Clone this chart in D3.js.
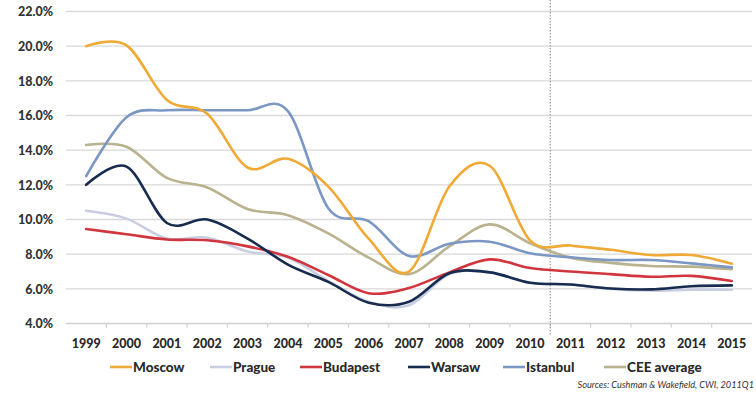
<!DOCTYPE html>
<html>
<head>
<meta charset="utf-8">
<script src="https://cdn.jsdelivr.net/npm/d3@7"></script>
<style>
  html, body { margin: 0; padding: 0; background: #fff; }
  svg { display: block; }
  text { font-family: Lato, "Open Sans", sans-serif; }
</style>
</head>
<body>
<svg id="chart" width="756" height="394"></svg>
<script>
// Office prime yields by city, 1999-2015 (forecast from 2011)
const years = ["1999","2000","2001","2002","2003","2004","2005","2006","2007","2008","2009","2010","2011","2012","2013","2014","2015"];

const moscow   = [20.0, 20.05, 16.9, 16.1, 13.0, 13.5, 11.9, 8.9, 7.0, 11.9, 13.1, 8.8, 8.5, 8.25, 7.95, 7.95, 7.45];
const prague   = [10.5, 10.05, 8.9, 8.95, 8.15, 7.8, 6.45, 5.25, 5.05, 6.85, 6.95, 6.35, 6.25, 6.0, 5.9, 5.95, 5.95];
const budapest = [9.45, 9.15, 8.85, 8.8, 8.45, 7.85, 6.8, 5.75, 6.05, 6.95, 7.7, 7.2, 7.0, 6.85, 6.7, 6.75, 6.45];
const warsaw   = [12.0, 13.05, 9.8, 10.0, 8.9, 7.4, 6.4, 5.2, 5.25, 6.9, 6.95, 6.35, 6.25, 6.02, 5.97, 6.15, 6.2];
const istanbul = [12.5, 15.9, 16.3, 16.3, 16.3, 16.25, 10.65, 9.9, 7.9, 8.6, 8.72, 8.05, 7.82, 7.66, 7.66, 7.47, 7.24];
const ceeAvg   = [14.3, 14.2, 12.4, 11.85, 10.6, 10.25, 9.2, 7.8, 6.85, 8.45, 9.72, 8.63, 7.8, 7.5, 7.32, 7.28, 7.13];

const seriesNames = ["Moscow", "Prague", "Budapest", "Warsaw", "Istanbul", "CEE average"];
const seriesValues = [moscow, prague, budapest, warsaw, istanbul, ceeAvg];
const seriesColors = ["#efa935", "#c9cde2", "#d1363e", "#172c4e", "#7b97c4", "#b9b28f"];

const yTicks = [4, 6, 8, 10, 12, 14, 16, 18, 20, 22];
const forecastStart = "2011";
const sourceNote = "Sources: Cushman & Wakefield, CWI, 2011Q1";

const svg = d3.select("#chart");
const margin = { left: 66, right: 4, top: 11.5, bottom: 70.5 };

const x = d3.scaleBand().domain(years).range([margin.left, 752]).paddingInner(0).paddingOuter(0);
const y = d3.scaleLinear().domain([4, 22]).range([323.5, margin.top]);

// horizontal gridlines
svg.append("g")
  .selectAll("line")
  .data(yTicks.filter(d => d > 4))
  .join("line")
  .attr("x1", margin.left).attr("x2", 752)
  .attr("y1", d => y(d)).attr("y2", d => y(d))
  .attr("stroke", "#d9d9d9").attr("stroke-width", 1.4);

// y-axis labels
const yAxis = d3.axisLeft(y).tickValues(yTicks).tickSize(0).tickPadding(0)
  .tickFormat(d => d.toFixed(1) + "%");
const gy = svg.append("g").attr("transform", "translate(53,0)").call(yAxis);
gy.select(".domain").remove();
gy.selectAll("text")
  .attr("font-size", "12.5px").attr("font-weight", 900).attr("fill", "#333")
  .attr("dy", "0.35em");

// x axis with ticks at category boundaries
const gx = svg.append("g").attr("transform", `translate(0,${y(4)})`);
gx.append("line")
  .attr("x1", margin.left).attr("x2", 752)
  .attr("stroke", "#cfcfcf").attr("stroke-width", 1.4);
gx.selectAll("line.tick")
  .data(years.slice(1))
  .join("line")
  .attr("class", "tick")
  .attr("x1", d => x(d)).attr("x2", d => x(d))
  .attr("y1", 0).attr("y2", 4)
  .attr("stroke", "#cfcfcf").attr("stroke-width", 1.2);
gx.selectAll("text")
  .data(years)
  .join("text")
  .attr("x", d => x(d) + x.bandwidth() / 2)
  .attr("y", 24)
  .attr("text-anchor", "middle")
  .attr("font-size", "12.5px").attr("font-weight", 900).attr("fill", "#2a2a2a")
  .text(d => d);

// dotted separator before forecast years
svg.append("line")
  .attr("x1", x(forecastStart)).attr("x2", x(forecastStart))
  .attr("y1", 0).attr("y2", 336)
  .attr("stroke", "#8a8a8a").attr("stroke-width", 1)
  .attr("stroke-dasharray", "1.5,1.5");

// series lines, smoothed
const line = d3.line()
  .x((d, i) => x(years[i]) + x.bandwidth() / 2)
  .y(d => y(d))
  .curve(d3.curveCardinal.tension(0));

const drawOrder = [1, 2, 3, 5, 4, 0];
svg.append("g")
  .selectAll("path")
  .data(drawOrder)
  .join("path")
  .attr("d", k => line(seriesValues[k]))
  .attr("fill", "none")
  .attr("stroke", k => seriesColors[k])
  .attr("stroke-width", 2.6)
  .attr("stroke-linejoin", "round")
  .attr("stroke-linecap", "round");

// legend
const legendX = [110, 210, 300, 408, 503, 604];
const lg = svg.append("g").attr("transform", "translate(0,367)");
const item = lg.selectAll("g")
  .data(seriesNames)
  .join("g")
  .attr("transform", (d, i) => `translate(${legendX[i]},0)`);
item.append("line")
  .attr("x1", 0).attr("x2", 22)
  .attr("stroke", (d, i) => seriesColors[i]).attr("stroke-width", 2.6);
item.append("text")
  .attr("x", 23).attr("dy", "0.35em")
  .attr("font-size", "13.5px").attr("font-weight", 900).attr("fill", "#2a2a2a")
  .text(d => d);

// source note
svg.append("text")
  .attr("x", 754).attr("y", 388)
  .attr("text-anchor", "end")
  .attr("font-size", "9.2px").attr("font-style", "italic").attr("fill", "#333")
  .text(sourceNote);
</script>
</body>
</html>
